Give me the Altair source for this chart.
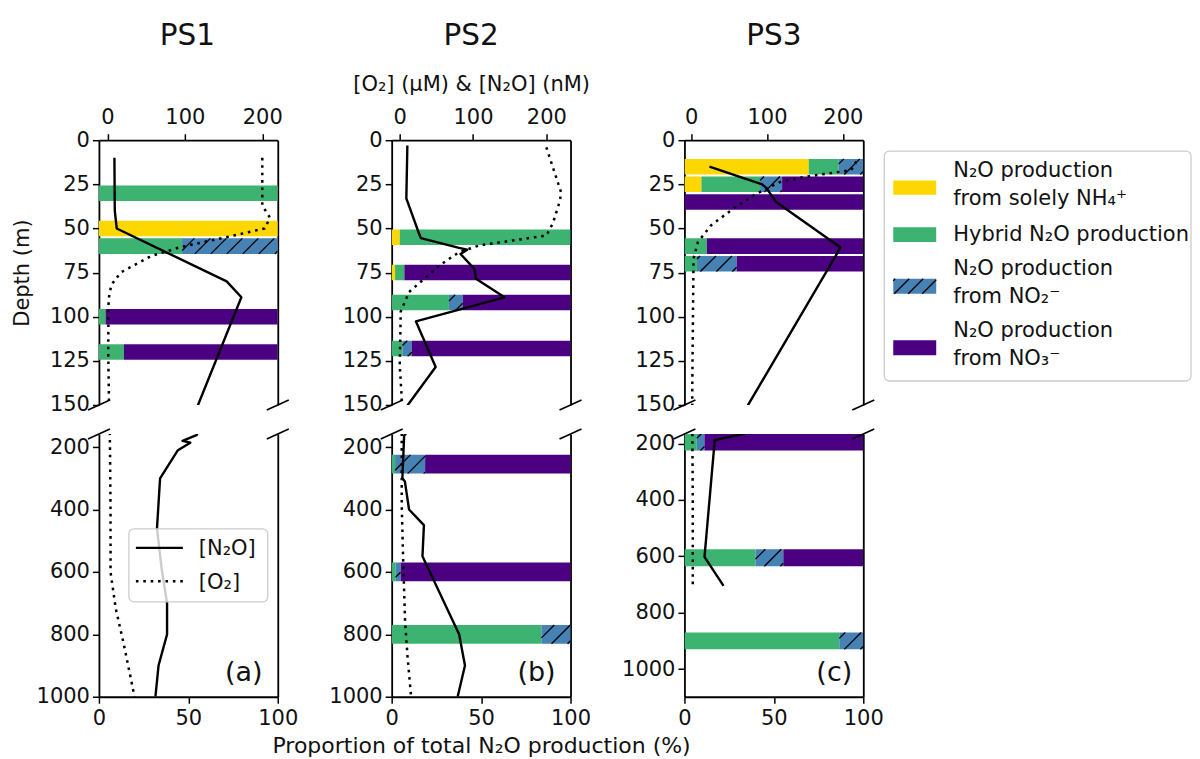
import altair as alt
import numpy as np
import pandas as pd

FONT = "DejaVu Sans"

# ---------------- categories ----------------
CATS = ["nh4", "hybrid", "no2", "no3"]
CAT_COLORS = ["#FFD700", "#3CB371", "#4682B4", "#4B0082"]

# ---------------- PS1 ----------------
PS1_BAR_DEPTH = [30, 50, 60, 100, 120]
PS1_NH4 = [0, 100, 0, 0, 0]
PS1_HYB = [100, 0, 46.5, 3.7, 14]
PS1_NO2 = [0, 0, 53.5, 0, 0]
PS1_NO3 = [0, 0, 0, 96.3, 86]

PS1_N2O_DEPTH = [10, 40, 50, 80, 89, 150, 162, 180, 186, 210, 300, 460, 590, 700, 800, 900, 1000]
PS1_N2O = [9, 9.5, 12, 154, 173, 117, 115, 97, 107, 91, 68, 64, 70, 77, 77, 66, 62]
PS1_O2_DEPTH = [10, 37, 44, 50, 54.5, 60.6, 65.7, 75, 82, 90, 120, 148, 157, 226, 402, 600, 717, 835, 1000]
PS1_O2 = [200, 200, 210, 203, 158, 94, 56, 17, 5, 1.5, 1, 2, 3, 3.4, 4, 4, 10.7, 21.4, 35]

# ---------------- PS2 ----------------
PS2_BAR_DEPTH = [55, 75, 92, 118, 255, 600, 800]
PS2_NH4 = [4.5, 1.9, 0, 0, 0, 0, 0]
PS2_HYB = [95.5, 5.2, 32, 6, 1.9, 2.2, 83.7]
PS2_NO2 = [0, 0, 7.7, 5.2, 16.8, 2.8, 16.3]
PS2_NO3 = [0, 92.9, 60.3, 88.8, 81.3, 95, 0]

PS2_N2O_DEPTH = [3, 33, 53, 55.5, 61, 62, 64.5, 73, 78.5, 89, 102.6, 128.5, 150, 163, 300, 310, 400, 450, 550, 800, 900, 1000]
PS2_N2O = [10.4, 9, 26.4, 28.8, 81, 92, 83, 102, 104, 143, 22, 49, 11, 6, 3.6, 7, 12.7, 33, 31, 81, 89, 79]
PS2_O2_DEPTH = [4, 30, 35, 47, 54, 59.6, 63.4, 71, 86, 97, 127.5, 146, 168, 387, 547, 760, 867, 1000]
PS2_O2 = [200, 220.5, 218, 209, 200, 108.6, 81, 54, 12.7, 1.4, 0, 2.7, 2.7, 2.7, 4.5, 7.3, 10.5, 15.5]

# ---------------- PS3 ----------------
PS3_BAR_DEPTH = [15, 25, 35, 60, 70, 195, 605, 900]
PS3_NH4 = [69.5, 9.5, 0, 0, 0, 0, 0, 0]
PS3_HYB = [16.7, 32.8, 0, 12.5, 7, 6.9, 39.7, 86.6]
PS3_NO2 = [13.8, 12.3, 0, 0, 22.2, 4.3, 15.6, 13.4]
PS3_NO3 = [0, 45.4, 100, 87.5, 70.8, 88.8, 44.7, 0]

PS3_N2O_DEPTH = [15, 25, 27, 35, 60.6, 65.3, 150, 165, 188, 602, 705]
PS3_N2O = [24, 93.6, 99, 112, 196.6, 191, 75, 70, 31, 17.5, 42.6]
PS3_O2_DEPTH = [12, 17, 19, 21, 23.8, 30.4, 38.9, 48.3, 57.7, 67, 142.6, 170, 400, 700]
PS3_O2 = [218, 211, 178, 147, 116.5, 85.7, 55, 26, 8.8, 3, 1.3, 1.5, 2, 2]

# ---------------- text ----------------
TITLES = ["PS1", "PS2", "PS3"]
LETTERS = ["(a)", "(b)", "(c)"]
TOP_TICKS = [0, 100, 200]
BOTTOM_TICKS = [0, 50, 100]
DEPTH_TICKS_TOP = [0, 25, 50, 75, 100, 125, 150]
DEPTH_TICKS_BOT = [200, 400, 600, 800, 1000]
LEGEND_LINES = ["N\u2082O production", "from solely NH\u2084\u207A", "Hybrid N\u2082O production",
                "N\u2082O production", "from NO\u2082\u207B", "N\u2082O production", "from NO\u2083\u207B"]

# ---------------- layout / style ----------------
W = 179
H_TOP = 265
H_BOT = 263
TOP_DOM = [0, 150]
BOT_DOM = {"a": [158, 1000], "b": [158, 1000], "c": [166, 1098]}
CONC_DOM = {"a": [-11, 220], "b": [-11, 233], "c": [-9, 227]}
HALF_TOP = 4.4
HALF_BOT = 30
HATCH_SP_PX = 16.0
TICK_FS = 21
LEG_FS = 21
DASH = [2.6, 4.8]

AXBASE = dict(domainColor="black", domainWidth=1.8, tickColor="black", tickWidth=1.5,
              tickSize=6.5, labelFont=FONT, labelFontSize=TICK_FS, labelColor="#111111",
              grid=False, labelFlush=False, labelOverlap=False, titleFont=FONT,
              titleFontWeight="normal", titleColor="#111111")


def stack(depths, parts):
    rows = []
    for i, d in enumerate(depths):
        left = 0.0
        for cat, vals in zip(CATS, parts):
            v = vals[i]
            if v > 0:
                rows.append(dict(cat=cat, x0=left, x1=left + v, yc=d))
                left += v
    return pd.DataFrame(rows, columns=["cat", "x0", "x1", "yc"])


def hatch_lines(xa, xb, ybot, ytop, dx, sp):
    out = []
    k = np.floor((xa - dx) / sp)
    while k * sp < xb:
        xs = k * sp
        tlo = max(0.0, (xa - xs) / dx)
        thi = min(1.0, (xb - xs) / dx)
        if thi - tlo > 1e-6:
            out.append((xs + tlo * dx, ybot + (ytop - ybot) * tlo,
                        xs + thi * dx, ybot + (ytop - ybot) * thi))
        k += 1
    return out


def one():
    return pd.DataFrame({"k": [0]})


def break_marks(y_px):
    res = []
    for xc in (0, W):
        res.append(alt.Chart(one()).mark_rule(color="black", strokeWidth=1.6).encode(
            x=alt.value(xc - 11), x2=alt.value(xc + 11),
            y=alt.value(y_px + 5), y2=alt.value(y_px - 5)))
    return res


def panel(key, bars_all, n2o_d, n2o_c, o2_d, o2_c, part, extras,
          left_title=None, top_title=None, bottom_title=None):
    top = part == "top"
    H = H_TOP if top else H_BOT
    ydom = TOP_DOM if top else BOT_DOM[key]
    half = HALF_TOP if top else HALF_BOT
    sel = bars_all[(bars_all.yc < 150) if top else (bars_all.yc > 150)].copy()
    sel["y0"] = sel["yc"] - half
    sel["y1"] = sel["yc"] + half

    px_pct = W / 100.0
    px_m = H / float(ydom[1] - ydom[0])
    dx = 2 * half * px_m / px_pct
    sp = HATCH_SP_PX / px_pct
    hrows = []
    for r in sel[sel.cat == "no2"].itertuples():
        for (x1_, y1_, x2_, y2_) in hatch_lines(r.x0, r.x1, r.yc + half, r.yc - half, dx, sp):
            hrows.append(dict(hx=x1_, hy=y1_, hx2=x2_, hy2=y2_))
    hatch = pd.DataFrame(hrows, columns=["hx", "hy", "hx2", "hy2"])

    pscale = alt.Scale(domain=[0, 100], nice=False, zero=False)
    yscale = alt.Scale(domain=ydom, reverse=True, nice=False, zero=False)
    cscale = alt.Scale(domain=CONC_DOM[key], nice=False, zero=False)

    lkw = dict(orient="left", values=DEPTH_TICKS_TOP if top else DEPTH_TICKS_BOT,
               format="d", labelPadding=3, **AXBASE)
    if left_title:
        lkw.update(title=left_title, titleFontSize=21, titleX=-70, titleY=H / 2,
                   titleAngle=270, titleAlign="center", titleBaseline="alphabetic")
    else:
        lkw["title"] = None
    left_axis = alt.Axis(**lkw)

    if top:
        bottom_axis = None
    else:
        bkw = dict(orient="bottom", values=BOTTOM_TICKS, format="d", labelPadding=4, **AXBASE)
        if bottom_title:
            bkw.update(title=bottom_title, titleFontSize=22, titleX=W / 2, titleY=56,
                       titleAlign="center", titleBaseline="alphabetic")
        else:
            bkw["title"] = None
        bottom_axis = alt.Axis(**bkw)

    if top:
        tkw = dict(orient="top", values=TOP_TICKS, format="d", labelPadding=6, **AXBASE)
        if top_title:
            tkw.update(title=top_title, titleFontSize=21, titleX=W / 2 - 10, titleY=-50,
                       titleAlign="center", titleBaseline="alphabetic")
        else:
            tkw["title"] = None
        top_axis = alt.Axis(**tkw)
    else:
        top_axis = None

    right_axis = alt.Axis(orient="right", labels=False, ticks=False, domain=True, title=None,
                          domainColor="black", domainWidth=1.8, grid=False)

    layers = []
    layers.append(alt.Chart(sel).mark_rect(clip=True).encode(
        x=alt.X("x0:Q", scale=pscale, axis=bottom_axis),
        x2="x1:Q",
        y=alt.Y("y0:Q", scale=yscale, axis=left_axis),
        y2="y1:Q",
        color=alt.Color("cat:N", scale=alt.Scale(domain=CATS, range=CAT_COLORS), legend=None)))
    layers.append(alt.Chart(hatch).mark_rule(clip=True, color="black", strokeWidth=1.3).encode(
        x=alt.X("hx:Q", scale=pscale, axis=None), x2="hx2:Q",
        y=alt.Y("hy:Q", scale=yscale, axis=None), y2="hy2:Q"))

    n2o = pd.DataFrame({"depth": n2o_d, "conc": n2o_c, "idx": list(range(len(n2o_d)))})
    o2 = pd.DataFrame({"depth": o2_d, "conc": o2_c, "idx": list(range(len(o2_d)))})
    layers.append(alt.Chart(o2).mark_line(clip=True, color="black", strokeWidth=2.5,
                                          strokeDash=DASH, strokeCap="butt").encode(
        x=alt.X("conc:Q", scale=cscale, axis=None),
        y=alt.Y("depth:Q", scale=yscale, axis=None),
        order="idx:Q"))
    layers.append(alt.Chart(n2o).mark_line(clip=True, color="black", strokeWidth=2.4,
                                           strokeJoin="round").encode(
        x=alt.X("conc:Q", scale=cscale, axis=top_axis),
        y=alt.Y("depth:Q", scale=yscale, axis=right_axis),
        order="idx:Q"))
    layers.extend(break_marks(H if top else 0))
    layers.extend(extras)

    return alt.layer(*layers).resolve_scale(x="independent", y="independent").resolve_axis(
        x="independent", y="independent").properties(width=W, height=H)


def title_text(txt, xc):
    return alt.Chart(one()).mark_text(font=FONT, fontSize=29.5, color="#111111",
                                      align="center", baseline="alphabetic").encode(
        x=alt.value(xc), y=alt.value(-95.7), text=alt.value(txt))


def letter_text(txt, xc):
    return alt.Chart(one()).mark_text(font=FONT, fontSize=27, color="#111111",
                                      align="center", baseline="alphabetic").encode(
        x=alt.value(xc), y=alt.value(247), text=alt.value(txt))


# ----- bar legend (drawn beside PS3 upper panel) -----
def bar_legend():
    box = alt.Chart(one()).mark_rect(fill="white", stroke="#cccccc", strokeWidth=1.3,
                                     cornerRadius=5).encode(
        x=alt.value(200), x2=alt.value(507), y=alt.value(11), y2=alt.value(241))
    sw = pd.DataFrame({"x": [209] * 4, "x2": [252] * 4,
                       "y": [40.3, 87, 138.7, 200.3], "y2": [54.7, 102, 153.7, 215.3],
                       "fill": CAT_COLORS})
    swatch = alt.Chart(sw).mark_rect().encode(
        x=alt.X("x:Q", scale=None, axis=None), x2="x2:Q",
        y=alt.Y("y:Q", scale=None, axis=None), y2="y2:Q",
        color=alt.Color("fill:N", scale=None))
    hr = hatch_lines(209, 252, 153.7, 138.7, 15.0, 14.0)
    hdf = pd.DataFrame(hr, columns=["x", "y", "x2", "y2"])
    hl = alt.Chart(hdf).mark_rule(color="black", strokeWidth=1.3).encode(
        x=alt.X("x:Q", scale=None, axis=None), x2="x2:Q",
        y=alt.Y("y:Q", scale=None, axis=None), y2="y2:Q")
    tdf = pd.DataFrame({"t": LEGEND_LINES, "x": [269] * 7,
                        "y": [37, 64.7, 101.3, 135.3, 162.7, 197, 224.7]})
    txt = alt.Chart(tdf).mark_text(font=FONT, fontSize=LEG_FS, color="#111111", align="left",
                                   baseline="alphabetic").encode(
        x=alt.X("x:Q", scale=None, axis=None), y=alt.Y("y:Q", scale=None, axis=None),
        text="t:N")
    return [box, swatch, hl, txt]


def line_legend():
    box = alt.Chart(one()).mark_rect(fill="white", fillOpacity=0.8, stroke="#cccccc",
                                     strokeWidth=1.3, cornerRadius=5).encode(
        x=alt.value(30), x2=alt.value(169), y=alt.value(95), y2=alt.value(168))
    solid = alt.Chart(one()).mark_rule(color="black", strokeWidth=2.4).encode(
        x=alt.value(37), x2=alt.value(84), y=alt.value(114))
    dotted = alt.Chart(one()).mark_rule(color="black", strokeWidth=2.5, strokeDash=DASH,
                                        strokeCap="butt").encode(
        x=alt.value(37), x2=alt.value(84), y=alt.value(147.3))
    tdf = pd.DataFrame({"t": ["[N\u2082O]", "[O\u2082]"], "x": [100, 100], "y": [121.6, 155]})
    txt = alt.Chart(tdf).mark_text(font=FONT, fontSize=LEG_FS, color="#111111", align="left",
                                   baseline="alphabetic").encode(
        x=alt.X("x:Q", scale=None, axis=None), y=alt.Y("y:Q", scale=None, axis=None),
        text="t:N")
    return [box, solid, dotted, txt]


barsA = stack(PS1_BAR_DEPTH, [PS1_NH4, PS1_HYB, PS1_NO2, PS1_NO3])
barsB = stack(PS2_BAR_DEPTH, [PS2_NH4, PS2_HYB, PS2_NO2, PS2_NO3])
barsC = stack(PS3_BAR_DEPTH, [PS3_NH4, PS3_HYB, PS3_NO2, PS3_NO3])

topA = panel("a", barsA, PS1_N2O_DEPTH, PS1_N2O, PS1_O2_DEPTH, PS1_O2, "top",
             [title_text(TITLES[0], W / 2 - 1)], left_title="Depth (m)")
topB = panel("b", barsB, PS2_N2O_DEPTH, PS2_N2O, PS2_O2_DEPTH, PS2_O2, "top",
             [title_text(TITLES[1], W / 2 - 10)],
             top_title="[O\u2082] (\u03bcM) & [N\u2082O] (nM)")
topC = panel("c", barsC, PS3_N2O_DEPTH, PS3_N2O, PS3_O2_DEPTH, PS3_O2, "top",
             [title_text(TITLES[2], W / 2)] + bar_legend())
botA = panel("a", barsA, PS1_N2O_DEPTH, PS1_N2O, PS1_O2_DEPTH, PS1_O2, "bottom",
             line_legend() + [letter_text(LETTERS[0], 145)])
botB = panel("b", barsB, PS2_N2O_DEPTH, PS2_N2O, PS2_O2_DEPTH, PS2_O2, "bottom",
             [letter_text(LETTERS[1], 145)],
             bottom_title="Proportion of total N\u2082O production (%)")
botC = panel("c", barsC, PS3_N2O_DEPTH, PS3_N2O, PS3_O2_DEPTH, PS3_O2, "bottom",
             [letter_text(LETTERS[2], 150)])

chart = alt.concat(topA, topB, topC, botA, botB, botC, columns=3,
                   spacing={"row": 29, "column": 114}, bounds="flush").properties(
    padding={"left": 4, "top": 12, "right": 0, "bottom": 0}, background="white"
).configure(font=FONT).configure_view(stroke=None)

chart.save("out.html", embed_options={"renderer": "svg", "actions": False})
